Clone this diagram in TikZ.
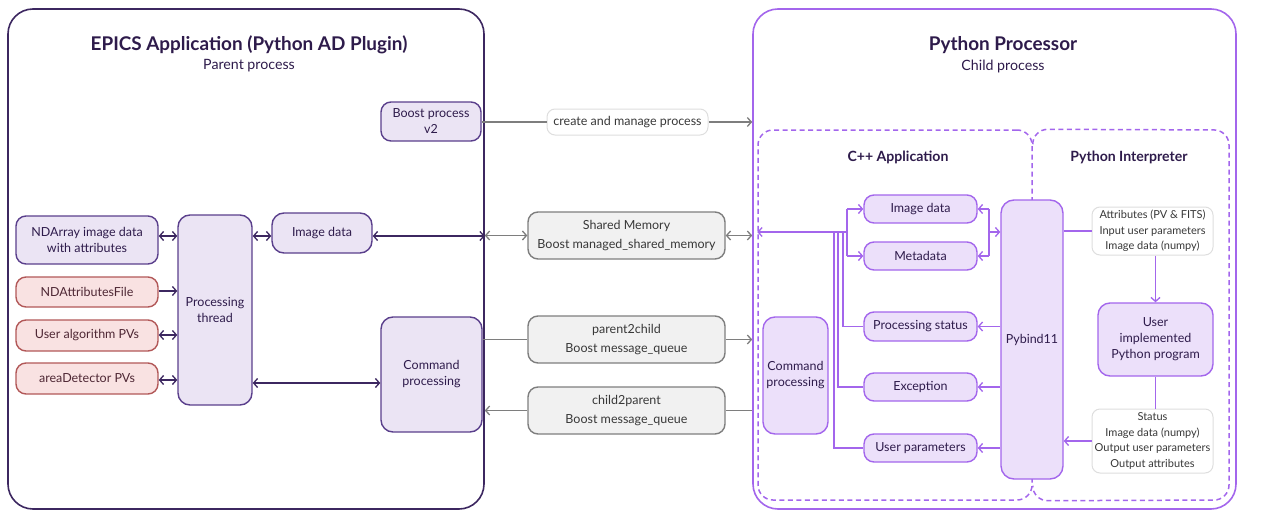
\documentclass[tikz,border=0pt]{standalone}
\usepackage{fontspec}
\setmainfont{Lato}
\usetikzlibrary{arrows.meta}

\definecolor{ink}{HTML}{2E1B4B}
\definecolor{parentline}{HTML}{3C2760}
\definecolor{pnode}{HTML}{5A3F8C}
\definecolor{pfill}{HTML}{EBE4F4}
\definecolor{rline}{HTML}{B25858}
\definecolor{rfill}{HTML}{F9E2E2}
\definecolor{rtext}{HTML}{4E2734}
\definecolor{cline}{HTML}{A366EC}
\definecolor{cfill}{HTML}{ECE0FA}
\definecolor{gline}{HTML}{7E7E7E}
\definecolor{gfill}{HTML}{F1F1F1}
\definecolor{gtext}{HTML}{383838}
\definecolor{lblline}{HTML}{DEDEDE}

\newcommand\fbody{\fontsize{12.5}{16}\selectfont}
\newcommand\fgrey{\fontsize{12.5}{19}\selectfont}
\newcommand\fsmall{\fontsize{11}{15.7}\selectfont}
\newcommand\flbl{\fontsize{12.5}{14}\selectfont}
\newcommand\ftitle{\fontsize{18.9}{22}\selectfont\bfseries}
\newcommand\fsub{\fontsize{14.2}{17}\selectfont}
\newcommand\fhead{\fontsize{14.1}{17}\selectfont\bfseries}

\begin{document}
\begin{tikzpicture}[x=1pt,y=-1pt,
  >={Straight Barb[length=4pt,width=9pt]},
  box/.style={rectangle, rounded corners=10pt, line width=1.4pt, inner sep=0pt,
    align=center, text=ink, font=\fbody},
  pbox/.style={box, draw=pnode, fill=pfill},
  rbox/.style={box, draw=rline, fill=rfill, text=rtext},
  cbox/.style={box, draw=cline, fill=cfill},
  gbox/.style={box, draw=gline, fill=gfill, text=gtext, font=\fgrey},
  lbl/.style={box, draw=lblline, fill=white, text=gtext, rounded corners=8pt, line width=1pt},
  region/.style={draw=cline, line width=1.5pt, dash pattern=on 5pt off 3.5pt, rounded corners=15pt},
  dconn/.style={draw=parentline, line width=1.3pt},
  gconn/.style={draw=gline, line width=1.3pt},
  cconn/.style={draw=cline, line width=1.3pt},
  title/.style={text=ink, inner sep=0pt}]

\useasboundingbox (0,0) rectangle (1274,511);

% ---------- parent process ----------
\node[draw=parentline, line width=1.6pt, rounded corners=25pt, minimum width=476,
  minimum height=500, inner sep=0pt] (parent) at (246,259) {};
\node[title, font=\ftitle] (ptitle) at (249,45) {EPICS Application (Python AD Plugin)};
\node[title, font=\fsub] (psub) at (249,66) {Parent process};

\node[pbox, minimum width=100, minimum height=39] (boost) at (431,121.5) {Boost process\\v2};
\node[pbox, minimum width=142, minimum height=48] (ndarray) at (87,240) {NDArray image data\\with attributes};
\node[rbox, minimum width=142, minimum height=30] (ndattr) at (87,292) {NDAttributesFile};
\node[rbox, minimum width=142, minimum height=31] (useralg) at (87,335.5) {User algorithm PVs};
\node[rbox, minimum width=142, minimum height=31] (areadet) at (87,378.5) {areaDetector PVs};
\node[pbox, minimum width=74, minimum height=190, rounded corners=12pt] (pthread) at (215,310) {Processing\\thread};
\node[pbox, minimum width=100, minimum height=40, rounded corners=12pt] (imgL) at (322,233) {Image data};
\node[pbox, minimum width=101, minimum height=115, rounded corners=12pt] (cmdL) at (431.5,374.5) {Command\\processing};

\coordinate (rowA) at (0,236);
\coordinate (rowB) at (0,291);
\coordinate (rowC) at (0,335);
\coordinate (rowD) at (0,380);
\coordinate (rowE) at (0,383);

\draw[dconn,<->] (ndarray.east |- rowA) -- (rowA -| pthread.west);
\draw[dconn,->] (ndattr.east |- rowB) -- (rowB -| pthread.west);
\draw[dconn,<->] (useralg.east |- rowC) -- (rowC -| pthread.west);
\draw[dconn,<->] (areadet.east |- rowD) -- (rowD -| pthread.west);
\draw[dconn,<->] (pthread.east |- rowA) -- (rowA -| imgL.west);
\draw[dconn,<->] (imgL.east |- rowA) -- (rowA -| parent.east);
\draw[dconn,<->] (pthread.east |- rowE) -- (rowE -| cmdL.west);

% ---------- child process ----------
\node[draw=cline, line width=1.6pt, rounded corners=25pt, minimum width=483,
  minimum height=500, inner sep=0pt] (child) at (994.5,259) {};
\node[title, font=\ftitle] (ctitle) at (1003,45) {Python Processor};
\node[title, font=\fsub] (csub) at (1003,66) {Child process};

\node[region, minimum width=274, minimum height=370, inner sep=0pt] (cpp) at (895,315) {};
\draw[region] ([yshift=-15pt]cpp.north east) -- (cpp.north east) -- (1229,130)
  -- (1229,500) -- (cpp.south east) -- ([yshift=15pt]cpp.south east);
\node[title, font=\fhead] (cpphead) at (898,157) {C++ Application};
\node[title, font=\fhead] (pyhead) at (1129,157) {Python Interpreter};

\node[cbox, minimum width=113, minimum height=28] (imgR) at (920.5,209) {Image data};
\node[cbox, minimum width=113, minimum height=28] (meta) at (920.5,256) {Metadata};
\node[cbox, minimum width=113, minimum height=29] (pstat) at (920.5,326.5) {Processing status};
\node[cbox, minimum width=113, minimum height=28] (exc) at (920.5,387) {Exception};
\node[cbox, minimum width=113, minimum height=28] (upar) at (920.5,448) {User parameters};
\node[cbox, minimum width=65, minimum height=117, rounded corners=12pt] (cmdR) at (795.5,375.5) {Command\\processing};
\node[cbox, minimum width=62, minimum height=279, rounded corners=13pt] (pyb) at (1032,339.5) {Pybind11};
\node[lbl, minimum width=121, minimum height=48, font=\fsmall] (attr) at (1152.5,231)
  {Attributes (PV \& FITS)\\Input user parameters\\Image data (numpy)};
\node[cbox, minimum width=115, minimum height=73, rounded corners=12pt] (uimpl) at (1155.5,339.5)
  {User\\implemented\\Python program};
\node[lbl, minimum width=121, minimum height=64, font=\fsmall] (stat) at (1152.5,441)
  {Status\\Image data (numpy)\\Output user parameters\\Output attributes};

% bus towards the parent side
\coordinate (jl) at (847,232);
\coordinate (jr) at (989,232);
\draw[cconn,->] (jl) -- (jl -| cpp.west);
\draw[cconn] (jl |- imgR.west) -- (jl |- meta.west);
\draw[cconn,->] (jl |- imgR.west) -- (imgR.west);
\draw[cconn,->] (jl |- meta.west) -- (meta.west);
\draw[cconn] (pstat.west) -| ([xshift=-4pt]jl);
\draw[cconn] (exc.west) -| ([xshift=-9pt]jl);
\draw[cconn] (upar.west) -| ([xshift=-13pt]jl);

% Pybind11 links
\draw[cconn,->] (jr) -- (jr -| pyb.west);
\draw[cconn] (jr |- imgR.east) -- (jr |- meta.east);
\draw[cconn,->] (jr |- imgR.east) -- (imgR.east);
\draw[cconn,->] (jr |- meta.east) -- (meta.east);
\draw[cconn,->] (pyb.west |- pstat.east) -- (pstat.east);
\draw[cconn,->] (pyb.west |- exc.east) -- (exc.east);
\draw[cconn,->] (pyb.west |- upar.east) -- (upar.east);
\draw[cconn] (pyb.east |- attr.west) -- (attr.west);
\draw[cconn,->] (attr.south -| uimpl.north) -- (uimpl.north);
\draw[cconn] (uimpl.south) -- (uimpl.south |- stat.north);
\draw[cconn,->] (stat.west) -- (stat.west -| pyb.east);

% ---------- inter-process channels ----------
\node[lbl, minimum width=161, minimum height=26, font=\flbl] (createlbl) at (627.5,122) {create and manage process};
\node[gbox, minimum width=197, minimum height=47] (shm) at (626.5,235.5) {Shared Memory\\Boost managed\_shared\_memory};
\node[gbox, minimum width=197, minimum height=47] (p2c) at (626.5,339.5) {parent2child\\Boost message\_queue};
\node[gbox, minimum width=197, minimum height=47] (c2p) at (626.5,410.5) {child2parent\\Boost message\_queue};

\draw[gconn] (boost.east |- createlbl) -- (createlbl.west);
\draw[gconn,->] (createlbl.east) -- (createlbl -| child.west);
\draw[gconn,<->] (shm.west -| parent.east) -- (shm.west);
\draw[gconn,<->] (shm.east) -- (shm.east -| child.west);
\draw[gconn] (cmdL.east |- p2c) -- (p2c.west);
\draw[gconn,->] (p2c.east) -- (p2c -| child.west);
\draw[gconn] (c2p -| child.west) -- (c2p.east);
\draw[gconn,->] (c2p.west) -- (c2p -| parent.east);

\end{tikzpicture}
\end{document}
